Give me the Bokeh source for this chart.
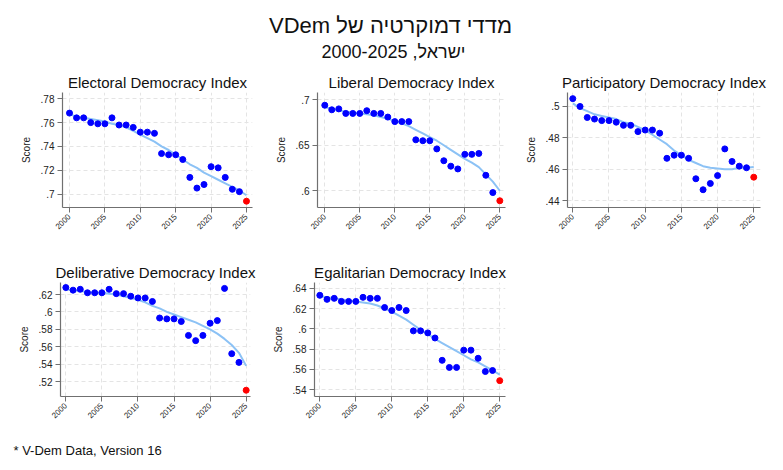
from bokeh.plotting import figure
from bokeh.models import Range1d, FixedTicker, CustomJSTickFormatter
from bokeh.layouts import column, row
from bokeh.embed import file_html
from bokeh.resources import INLINE
from bokeh.core.properties import value
import math

FONT = "Liberation Sans"

# ---------------- data ----------------
years = list(range(2000, 2026))
x_ticks = [2000, 2005, 2010, 2015, 2020, 2025]

electoral = [.768, .764, .764, .760, .759, .759, .764, .758, .758, .756, .752, .752, .751,
             .734, .733, .733, .729, .714, .705, .708, .723, .722, .714, .704, .702, .694]
electoral_fit = [.767, .765, .764, .763, .762, .761, .759, .758, .756, .753, .750, .747, .744,
                 .740, .737, .733, .729, .725, .722, .718, .715, .712, .709, .706, .703, .699]
electoral_ticks = [.70, .72, .74, .76, .78]

liberal = [.694, .689, .690, .685, .685, .685, .688, .685, .685, .681, .676, .676, .676,
           .656, .655, .655, .646, .633, .627, .624, .640, .640, .641, .617, .598, .589]
liberal_fit = [.692, .690, .688, .687, .686, .685, .684, .683, .681, .679, .677, .674, .671,
               .667, .663, .659, .655, .650, .645, .640, .635, .631, .626, .618, .610, .600]
liberal_ticks = [.60, .65, .70]

participatory = [.505, .500, .493, .492, .491, .491, .490, .488, .488, .484, .485, .485, .483,
                 .467, .469, .469, .467, .454, .447, .451, .456, .473, .465, .462, .461, .455]
participatory_fit = [.502, .499, .497, .495, .494, .493, .492, .490, .489, .487, .485, .482, .479,
                     .476, .472, .469, .466, .464, .462, .461, .4605, .460, .460, .461, .461, .4615]
participatory_ticks = [.44, .46, .48, .50]

deliberative = [.628, .625, .626, .622, .622, .622, .626, .621, .621, .618, .616, .616, .612,
                .593, .592, .592, .589, .573, .567, .573, .587, .590, .627, .552, .542, .510]
deliberative_fit = [.626, .625, .624, .623, .622, .622, .621, .620, .618, .616, .614, .611, .607,
                    .604, .600, .597, .594, .591, .588, .584, .580, .575, .569, .562, .553, .538]
deliberative_ticks = [.52, .54, .56, .58, .60, .62]

egalitarian = [.633, .629, .630, .627, .627, .627, .631, .630, .630, .621, .618, .621, .618,
               .598, .598, .596, .591, .569, .562, .562, .579, .579, .571, .558, .559, .549]
egalitarian_fit = [.632, .631, .630, .629, .628, .627, .626, .625, .623, .620, .617, .613, .609,
                   .604, .599, .595, .590, .586, .582, .578, .574, .570, .567, .563, .559, .555]
egalitarian_ticks = [.54, .56, .58, .60, .62, .64]

main_title = "\u202bמדדי דמוקרטיה של VDem\u202c"
sub_title = "\u202bישראל, 2000-2025\u202c"
footnote = "* V-Dem Data, Version 16"
y_label = "Score"
titles = ["Electoral Democracy Index", "Liberal Democracy Index", "Participatory Democracy Index",
          "Deliberative Democracy Index", "Egalitarian Democracy Index"]

fmt = CustomJSTickFormatter(code="""
let s = tick.toFixed(2);
s = s.replace(/0+$/, '').replace(/\\.$/, '');
if (s.startsWith('0.')) s = s.slice(1);
return s;
""")


def panel(title, vals, fit, yticks, xr, yr, width, height, bl, br, bt, bb):
    p = figure(width=width, height=height, output_backend="svg", toolbar_location=None,
               x_range=Range1d(*xr), y_range=Range1d(*yr),
               min_border_left=bl, min_border_right=br, min_border_top=bt, min_border_bottom=bb,
               title=title)
    p.title.text_font = FONT
    p.title.text_font_size = "15px"
    p.title.text_font_style = "normal"
    p.title.text_color = "#111111"
    p.title.align = "center"
    p.title.standoff = 3
    p.outline_line_color = None
    p.background_fill_color = "white"
    p.border_fill_color = "white"

    for g in (p.xgrid, p.ygrid):
        g.grid_line_color = "#e4e4e4"
        g.grid_line_dash = "4 3"
        g.grid_line_width = 1

    p.xaxis.ticker = FixedTicker(ticks=x_ticks)
    p.yaxis.ticker = FixedTicker(ticks=yticks)
    p.yaxis.formatter = fmt
    p.xaxis.major_label_orientation = math.pi / 4
    for ax in (p.xaxis, p.yaxis):
        ax.axis_line_color = "#707070"
        ax.axis_line_width = 1.2
        ax.major_tick_line_color = "#707070"
        ax.major_tick_out = 5
        ax.major_tick_in = 0
        ax.minor_tick_out = 0
        ax.minor_tick_in = 0
        ax.major_label_text_font = FONT
        ax.major_label_text_color = "#222222"
        ax.major_label_standoff = 3
    p.xaxis.major_label_text_font_size = "8px"
    p.yaxis.major_label_text_font_size = "10px"
    p.yaxis.axis_label = y_label
    p.yaxis.axis_label_text_font = FONT
    p.yaxis.axis_label_text_font_size = "10px"
    p.yaxis.axis_label_text_font_style = "normal"
    p.yaxis.axis_label_text_color = "#222222"
    p.yaxis.axis_label_standoff = 6

    p.line(years, fit, line_color="#8cc2f5", line_width=2)
    p.scatter(years[:-1], vals[:-1], size=6, fill_color="#0000ff", line_color="#0000ff")
    p.scatter(years[-1:], vals[-1:], size=6, fill_color="#ff0000", line_color="#ff0000")
    return p


p1 = panel(titles[0], electoral, electoral_fit, electoral_ticks, (1999.01, 2025.85), (.6887, .7853),
           263, 182, 62, 11, 24, 43)
p2 = panel(titles[1], liberal, liberal_fit, liberal_ticks, (1998.96, 2025.81), (.5816, .708),
           250, 182, 54, 8, 24, 43)
p3 = panel(titles[2], participatory, participatory_fit, participatory_ticks, (1999.27, 2025.93), (.4357, .5089),
           262, 182, 54, 15, 24, 43)
p4 = panel(titles[3], deliberative, deliberative_fit, deliberative_ticks, (1999.26, 2025.6), (.5028, .6338),
           263, 180, 60, 13, 32, 34)
p5 = panel(titles[4], egalitarian, egalitarian_fit, egalitarian_ticks, (1999.26, 2025.8), (.5334, .6456),
           250, 180, 51, 8, 32, 34)


def text_fig(width, height, items):
    f = figure(width=width, height=height, output_backend="svg", toolbar_location=None,
               x_range=Range1d(0, width), y_range=Range1d(height, 0),
               min_border=0, outline_line_color=None)
    f.axis.visible = False
    f.grid.visible = False
    for (x, y, t, size, align) in items:
        f.text(x=[x], y=[y], text=[t], text_font=value(FONT), text_font_size=size,
               text_align=align, text_baseline="alphabetic", text_color="#111111")
    return f


head = text_fig(775, 68, [(390, 25, main_title, "22px", "center"),
                          (393, 51, sub_title, "18px", "center")])
foot = text_fig(775, 32, [(13, 20, footnote, "13px", "left")])

layout = column(head, row(p1, p2, p3), row(p4, p5), foot)
open("out.html", "w").write(file_html(layout, INLINE))
